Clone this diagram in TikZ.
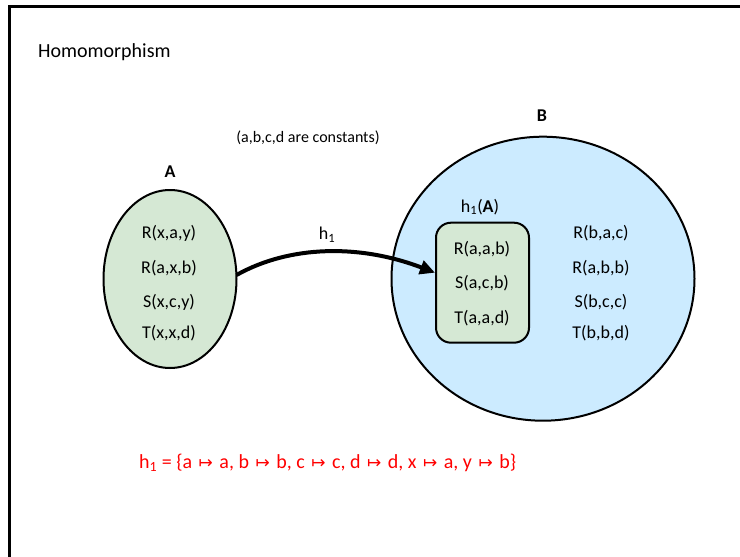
\documentclass[tikz,border=0pt]{standalone}
\usepackage{fontspec}
\setmainfont{Carlito}
\newfontfamily\arrowfont{DejaVu Sans}
\usetikzlibrary{arrows.meta}
\definecolor{setgreen}{RGB}{213,232,212}
\definecolor{setblue}{RGB}{204,235,255}
\definecolor{mapred}{RGB}{255,0,0}
\newcommand{\mto}{\hspace{2pt}{\arrowfont\fontsize{17}{20}\selectfont ↦}\hspace{2pt}}
\begin{document}
\begin{tikzpicture}[x=1pt,y=-1pt,
  txt/.style={inner sep=0pt,font=\fontsize{18}{20}\selectfont},
  lbl/.style={inner sep=0pt,font=\fontsize{18}{20}\selectfont\bfseries},
]
\useasboundingbox (0,0) rectangle (740,557);
\fill[white] (0,0) rectangle (740,557);
% slide frame
\draw[line width=2.5pt] (9.5,557) -- (9.5,6.3) -- (740,6.3);

% title and note
\node[anchor=base west,inner sep=0pt,font=\fontsize{20}{24}\selectfont] (title) at (38,57) {Homomorphism};
\node[inner sep=0pt,font=\fontsize{16}{18}\selectfont] (note) at (308,138) {(a,b,c,d are constants)};

% structure A
\draw[line width=2pt,fill=setgreen] (170,279) ellipse [x radius=66.5,y radius=89];
\coordinate (Aeast) at (236.5,275);
\node[lbl] (labA) at (170,172) {A};
\node[txt] (a1) at (169,233) {R(x,a,y)};
\node[txt] (a2) at (169,268) {R(a,x,b)};
\node[txt] (a3) at (169,302) {S(x,c,y)};
\node[txt] (a4) at (169,333) {T(x,x,d)};

% structure B
\draw[line width=2pt,fill=setblue] (543,278.7) ellipse [x radius=151.5,y radius=142];
\node[lbl] (labB) at (542,116) {B};
\node[draw=black,line width=2pt,fill=setgreen,rounded corners=15pt,
      minimum width=93pt,minimum height=120pt,inner sep=0pt] (hA) at (482.5,282.7) {};
\node[inner sep=0pt,font=\fontsize{18}{20}\selectfont] (hAlab) at (480,207) {h\textsubscript{1}(\textbf{A})};
\node[txt] (h1) at (482,249) {R(a,a,b)};
\node[txt] (h2) at (482,283) {S(a,c,b)};
\node[txt] (h3) at (482,318) {T(a,a,d)};
\node[txt] (b1) at (601,233) {R(b,a,c)};
\node[txt] (b2) at (601,268) {R(a,b,b)};
\node[txt] (b3) at (601,302) {S(b,c,c)};
\node[txt] (b4) at (601,333) {T(b,b,d)};

% the homomorphism arrow
\draw[line width=4pt,-{Triangle[length=15pt,width=14pt]}]
  (Aeast) .. controls (290,245) and (360,244) .. ([yshift=10pt]hA.west);
\node[inner sep=0pt,font=\fontsize{18}{20}\selectfont] (hlab) at (327,235) {h\textsubscript{1}};

% the mapping
\node[anchor=west,inner sep=0pt,text=mapred,font=\fontsize{20}{22}\selectfont] (map) at (139,463)
  {h\textsubscript{1} = \{a \mto{} a, b \mto{} b, c \mto{} c, d \mto{} d, x \mto{} a, y \mto{} b\}};
\end{tikzpicture}
\end{document}
